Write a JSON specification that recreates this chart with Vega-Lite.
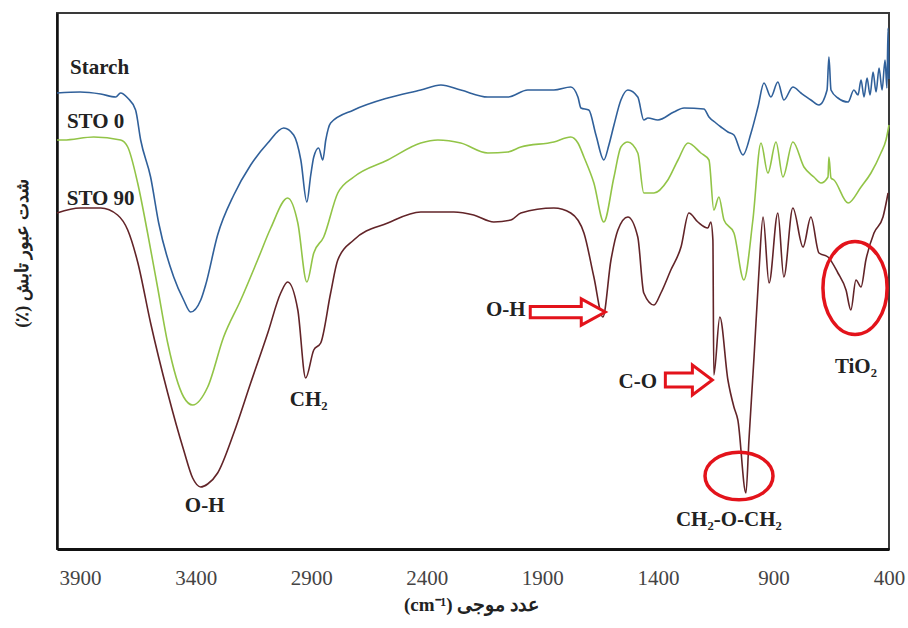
{
  "$schema": "https://vega.github.io/schema/vega-lite/v6.json",
  "width": 832,
  "height": 536,
  "autosize": {"type": "none"},
  "padding": {"left": 57, "top": 13, "right": 19, "bottom": 79},
  "background": "white",
  "config": {"view": {"stroke": "#3a3a3a", "strokeWidth": 2}, "font": "Liberation Serif"},
  "datasets": {
    "spectra": [
      {"sample":"Starch","wavenumber":4000,"value":456},{"sample":"Starch","wavenumber":3900,"value":457},{"sample":"Starch","wavenumber":3811,"value":455},{"sample":"Starch","wavenumber":3746,"value":452},{"sample":"Starch","wavenumber":3725,"value":456},{"sample":"Starch","wavenumber":3694,"value":451},{"sample":"Starch","wavenumber":3660,"value":439},{"sample":"Starch","wavenumber":3638,"value":409},{"sample":"Starch","wavenumber":3595,"value":372},{"sample":"Starch","wavenumber":3560,"value":326},{"sample":"Starch","wavenumber":3495,"value":272},{"sample":"Starch","wavenumber":3452,"value":249},{"sample":"Starch","wavenumber":3422,"value":237},{"sample":"Starch","wavenumber":3378,"value":249},{"sample":"Starch","wavenumber":3357,"value":264},{"sample":"Starch","wavenumber":3305,"value":314},{"sample":"Starch","wavenumber":3235,"value":354},{"sample":"Starch","wavenumber":3162,"value":384},{"sample":"Starch","wavenumber":3088,"value":406},{"sample":"Starch","wavenumber":3019,"value":421},{"sample":"Starch","wavenumber":2976,"value":414},{"sample":"Starch","wavenumber":2945,"value":389},{"sample":"Starch","wavenumber":2919,"value":347},{"sample":"Starch","wavenumber":2902,"value":374},{"sample":"Starch","wavenumber":2889,"value":392},{"sample":"Starch","wavenumber":2868,"value":401},{"sample":"Starch","wavenumber":2850,"value":389},{"sample":"Starch","wavenumber":2837,"value":409},{"sample":"Starch","wavenumber":2816,"value":426},{"sample":"Starch","wavenumber":2716,"value":439},{"sample":"Starch","wavenumber":2569,"value":451},{"sample":"Starch","wavenumber":2426,"value":459},{"sample":"Starch","wavenumber":2339,"value":464},{"sample":"Starch","wavenumber":2253,"value":459},{"sample":"Starch","wavenumber":2136,"value":452},{"sample":"Starch","wavenumber":2049,"value":452},{"sample":"Starch","wavenumber":1963,"value":459},{"sample":"Starch","wavenumber":1850,"value":459},{"sample":"Starch","wavenumber":1777,"value":462},{"sample":"Starch","wavenumber":1746,"value":452},{"sample":"Starch","wavenumber":1733,"value":441},{"sample":"Starch","wavenumber":1699,"value":439},{"sample":"Starch","wavenumber":1668,"value":414},{"sample":"Starch","wavenumber":1634,"value":389},{"sample":"Starch","wavenumber":1612,"value":404},{"sample":"Starch","wavenumber":1590,"value":424},{"sample":"Starch","wavenumber":1560,"value":449},{"sample":"Starch","wavenumber":1530,"value":459},{"sample":"Starch","wavenumber":1487,"value":452},{"sample":"Starch","wavenumber":1461,"value":429},{"sample":"Starch","wavenumber":1443,"value":431},{"sample":"Starch","wavenumber":1400,"value":429},{"sample":"Starch","wavenumber":1331,"value":437},{"sample":"Starch","wavenumber":1287,"value":441},{"sample":"Starch","wavenumber":1201,"value":440},{"sample":"Starch","wavenumber":1179,"value":432},{"sample":"Starch","wavenumber":1149,"value":426},{"sample":"Starch","wavenumber":1127,"value":422},{"sample":"Starch","wavenumber":1097,"value":417},{"sample":"Starch","wavenumber":1071,"value":414},{"sample":"Starch","wavenumber":1032,"value":394},{"sample":"Starch","wavenumber":997,"value":416},{"sample":"Starch","wavenumber":967,"value":442},{"sample":"Starch","wavenumber":941,"value":466},{"sample":"Starch","wavenumber":911,"value":452},{"sample":"Starch","wavenumber":881,"value":467},{"sample":"Starch","wavenumber":855,"value":449},{"sample":"Starch","wavenumber":816,"value":462},{"sample":"Starch","wavenumber":781,"value":456},{"sample":"Starch","wavenumber":738,"value":449},{"sample":"Starch","wavenumber":703,"value":444},{"sample":"Starch","wavenumber":668,"value":459},{"sample":"Starch","wavenumber":660,"value":492},{"sample":"Starch","wavenumber":651,"value":459},{"sample":"Starch","wavenumber":621,"value":451},{"sample":"Starch","wavenumber":577,"value":447},{"sample":"Starch","wavenumber":552,"value":459},{"sample":"Starch","wavenumber":534,"value":454},{"sample":"Starch","wavenumber":521,"value":469},{"sample":"Starch","wavenumber":508,"value":452},{"sample":"Starch","wavenumber":495,"value":471},{"sample":"Starch","wavenumber":482,"value":454},{"sample":"Starch","wavenumber":469,"value":477},{"sample":"Starch","wavenumber":456,"value":457},{"sample":"Starch","wavenumber":443,"value":481},{"sample":"Starch","wavenumber":430,"value":459},{"sample":"Starch","wavenumber":417,"value":489},{"sample":"Starch","wavenumber":409,"value":461},{"sample":"Starch","wavenumber":404,"value":521},{"sample":"Starch","wavenumber":400,"value":470},
      {"sample":"STO 0","wavenumber":4000,"value":409},{"sample":"STO 0","wavenumber":3971,"value":409},{"sample":"STO 0","wavenumber":3841,"value":412},{"sample":"STO 0","wavenumber":3725,"value":409},{"sample":"STO 0","wavenumber":3694,"value":402},{"sample":"STO 0","wavenumber":3651,"value":366},{"sample":"STO 0","wavenumber":3608,"value":316},{"sample":"STO 0","wavenumber":3565,"value":262},{"sample":"STO 0","wavenumber":3521,"value":206},{"sample":"STO 0","wavenumber":3452,"value":152},{"sample":"STO 0","wavenumber":3413,"value":144},{"sample":"STO 0","wavenumber":3348,"value":162},{"sample":"STO 0","wavenumber":3279,"value":212},{"sample":"STO 0","wavenumber":3205,"value":249},{"sample":"STO 0","wavenumber":3132,"value":289},{"sample":"STO 0","wavenumber":3075,"value":321},{"sample":"STO 0","wavenumber":3002,"value":351},{"sample":"STO 0","wavenumber":2958,"value":326},{"sample":"STO 0","wavenumber":2919,"value":267},{"sample":"STO 0","wavenumber":2889,"value":296},{"sample":"STO 0","wavenumber":2846,"value":312},{"sample":"STO 0","wavenumber":2785,"value":356},{"sample":"STO 0","wavenumber":2716,"value":372},{"sample":"STO 0","wavenumber":2569,"value":389},{"sample":"STO 0","wavenumber":2426,"value":406},{"sample":"STO 0","wavenumber":2352,"value":409},{"sample":"STO 0","wavenumber":2253,"value":406},{"sample":"STO 0","wavenumber":2136,"value":396},{"sample":"STO 0","wavenumber":2049,"value":397},{"sample":"STO 0","wavenumber":1993,"value":402},{"sample":"STO 0","wavenumber":1850,"value":407},{"sample":"STO 0","wavenumber":1777,"value":412},{"sample":"STO 0","wavenumber":1746,"value":406},{"sample":"STO 0","wavenumber":1720,"value":392},{"sample":"STO 0","wavenumber":1677,"value":366},{"sample":"STO 0","wavenumber":1634,"value":327},{"sample":"STO 0","wavenumber":1590,"value":372},{"sample":"STO 0","wavenumber":1560,"value":402},{"sample":"STO 0","wavenumber":1530,"value":407},{"sample":"STO 0","wavenumber":1487,"value":396},{"sample":"STO 0","wavenumber":1461,"value":356},{"sample":"STO 0","wavenumber":1417,"value":356},{"sample":"STO 0","wavenumber":1357,"value":369},{"sample":"STO 0","wavenumber":1313,"value":389},{"sample":"STO 0","wavenumber":1270,"value":406},{"sample":"STO 0","wavenumber":1214,"value":396},{"sample":"STO 0","wavenumber":1179,"value":389},{"sample":"STO 0","wavenumber":1158,"value":339},{"sample":"STO 0","wavenumber":1136,"value":352},{"sample":"STO 0","wavenumber":1114,"value":329},{"sample":"STO 0","wavenumber":1071,"value":316},{"sample":"STO 0","wavenumber":1028,"value":269},{"sample":"STO 0","wavenumber":989,"value":329},{"sample":"STO 0","wavenumber":954,"value":406},{"sample":"STO 0","wavenumber":924,"value":376},{"sample":"STO 0","wavenumber":889,"value":407},{"sample":"STO 0","wavenumber":859,"value":372},{"sample":"STO 0","wavenumber":816,"value":407},{"sample":"STO 0","wavenumber":768,"value":382},{"sample":"STO 0","wavenumber":725,"value":372},{"sample":"STO 0","wavenumber":694,"value":366},{"sample":"STO 0","wavenumber":664,"value":372},{"sample":"STO 0","wavenumber":660,"value":392},{"sample":"STO 0","wavenumber":651,"value":371},{"sample":"STO 0","wavenumber":638,"value":369},{"sample":"STO 0","wavenumber":577,"value":346},{"sample":"STO 0","wavenumber":521,"value":362},{"sample":"STO 0","wavenumber":478,"value":376},{"sample":"STO 0","wavenumber":435,"value":396},{"sample":"STO 0","wavenumber":413,"value":409},{"sample":"STO 0","wavenumber":400,"value":424},
      {"sample":"STO 90","wavenumber":4000,"value":336},{"sample":"STO 90","wavenumber":3900,"value":341},{"sample":"STO 90","wavenumber":3811,"value":341},{"sample":"STO 90","wavenumber":3738,"value":334},{"sample":"STO 90","wavenumber":3694,"value":319},{"sample":"STO 90","wavenumber":3651,"value":287},{"sample":"STO 90","wavenumber":3595,"value":226},{"sample":"STO 90","wavenumber":3521,"value":156},{"sample":"STO 90","wavenumber":3452,"value":99},{"sample":"STO 90","wavenumber":3413,"value":71},{"sample":"STO 90","wavenumber":3378,"value":62},{"sample":"STO 90","wavenumber":3348,"value":65},{"sample":"STO 90","wavenumber":3305,"value":76},{"sample":"STO 90","wavenumber":3235,"value":116},{"sample":"STO 90","wavenumber":3162,"value":166},{"sample":"STO 90","wavenumber":3088,"value":216},{"sample":"STO 90","wavenumber":3032,"value":256},{"sample":"STO 90","wavenumber":3002,"value":267},{"sample":"STO 90","wavenumber":2958,"value":239},{"sample":"STO 90","wavenumber":2924,"value":171},{"sample":"STO 90","wavenumber":2889,"value":199},{"sample":"STO 90","wavenumber":2859,"value":206},{"sample":"STO 90","wavenumber":2816,"value":256},{"sample":"STO 90","wavenumber":2785,"value":289},{"sample":"STO 90","wavenumber":2716,"value":309},{"sample":"STO 90","wavenumber":2569,"value":326},{"sample":"STO 90","wavenumber":2426,"value":337},{"sample":"STO 90","wavenumber":2283,"value":337},{"sample":"STO 90","wavenumber":2197,"value":334},{"sample":"STO 90","wavenumber":2110,"value":327},{"sample":"STO 90","wavenumber":2036,"value":329},{"sample":"STO 90","wavenumber":1993,"value":336},{"sample":"STO 90","wavenumber":1850,"value":341},{"sample":"STO 90","wavenumber":1777,"value":336},{"sample":"STO 90","wavenumber":1720,"value":316},{"sample":"STO 90","wavenumber":1677,"value":272},{"sample":"STO 90","wavenumber":1638,"value":232},{"sample":"STO 90","wavenumber":1603,"value":289},{"sample":"STO 90","wavenumber":1573,"value":319},{"sample":"STO 90","wavenumber":1530,"value":332},{"sample":"STO 90","wavenumber":1487,"value":312},{"sample":"STO 90","wavenumber":1461,"value":256},{"sample":"STO 90","wavenumber":1417,"value":244},{"sample":"STO 90","wavenumber":1387,"value":256},{"sample":"STO 90","wavenumber":1344,"value":279},{"sample":"STO 90","wavenumber":1300,"value":302},{"sample":"STO 90","wavenumber":1266,"value":336},{"sample":"STO 90","wavenumber":1227,"value":327},{"sample":"STO 90","wavenumber":1184,"value":321},{"sample":"STO 90","wavenumber":1171,"value":327},{"sample":"STO 90","wavenumber":1162,"value":309},{"sample":"STO 90","wavenumber":1158,"value":174},{"sample":"STO 90","wavenumber":1132,"value":232},{"sample":"STO 90","wavenumber":1097,"value":169},{"sample":"STO 90","wavenumber":1071,"value":142},{"sample":"STO 90","wavenumber":1054,"value":129},{"sample":"STO 90","wavenumber":1019,"value":56},{"sample":"STO 90","wavenumber":1006,"value":109},{"sample":"STO 90","wavenumber":984,"value":192},{"sample":"STO 90","wavenumber":963,"value":276},{"sample":"STO 90","wavenumber":945,"value":332},{"sample":"STO 90","wavenumber":919,"value":266},{"sample":"STO 90","wavenumber":881,"value":336},{"sample":"STO 90","wavenumber":855,"value":272},{"sample":"STO 90","wavenumber":816,"value":341},{"sample":"STO 90","wavenumber":772,"value":302},{"sample":"STO 90","wavenumber":738,"value":332},{"sample":"STO 90","wavenumber":703,"value":296},{"sample":"STO 90","wavenumber":664,"value":292},{"sample":"STO 90","wavenumber":621,"value":276},{"sample":"STO 90","wavenumber":586,"value":259},{"sample":"STO 90","wavenumber":565,"value":239},{"sample":"STO 90","wavenumber":543,"value":269},{"sample":"STO 90","wavenumber":521,"value":262},{"sample":"STO 90","wavenumber":500,"value":289},{"sample":"STO 90","wavenumber":465,"value":316},{"sample":"STO 90","wavenumber":426,"value":332},{"sample":"STO 90","wavenumber":404,"value":356}
    ],
    "labels": [
      {"label":"Starch","wavenumber":3816,"value":481},
      {"label":"STO 0","wavenumber":3833,"value":427},
      {"label":"STO 90","wavenumber":3811,"value":350},
      {"label":"O-H","wavenumber":3361,"value":43},
      {"label":"CH₂","wavenumber":2911,"value":149},
      {"label":"O-H","wavenumber":2058,"value":239},
      {"label":"C-O","wavenumber":1487,"value":167},
      {"label":"CH₂-O-CH₂","wavenumber":1093,"value":29},
      {"label":"TiO₂","wavenumber":543,"value":182}
    ]
  },
  "encoding": {
    "x": {
      "field": "wavenumber", "type": "quantitative",
      "scale": {"domain": [400, 4000], "reverse": true, "nice": false, "zero": false},
      "axis": {
        "values": [3900, 3400, 2900, 2400, 1900, 1400, 900, 400],
        "format": "d",
        "title": "(cm⁻¹) عدد موجی",
        "grid": false, "ticks": false, "tickSize": 0,
        "labelPadding": 29, "labelBaseline": "middle", "labelFlush": false, "labelOverlap": false,
        "labelFont": "Liberation Serif", "labelFontSize": 21, "labelColor": "#444",
        "domainColor": "#111", "domainWidth": 3,
        "titleX": 414, "titleY": 55, "titleBaseline": "middle", "titleAlign": "center",
        "titleFont": "Liberation Serif", "titleFontSize": 19, "titleFontWeight": "bold", "titleColor": "#222"
      }
    },
    "y": {
      "field": "value", "type": "quantitative",
      "scale": {"domain": [0, 536], "nice": false, "zero": false},
      "axis": {
        "title": "(٪) شدت عبور تابش",
        "labels": false, "ticks": false, "tickSize": 0, "grid": false,
        "domainColor": "#111", "domainWidth": 2.5,
        "titleX": -35, "titleY": 240, "titleBaseline": "middle", "titleAlign": "center", "titleAngle": -90,
        "titleFont": "Liberation Serif", "titleFontSize": 18, "titleFontWeight": "bold", "titleColor": "#222"
      }
    }
  },
  "layer": [
    {
      "data": {"name": "spectra"},
      "mark": {"type": "line", "strokeWidth": 1.6, "interpolate": "monotone"},
      "encoding": {
        "color": {"field": "sample", "type": "nominal",
          "scale": {"domain": ["Starch", "STO 0", "STO 90"], "range": ["#30609a", "#92c447", "#622428"]},
          "legend": null}
      }
    },
    {
      "data": {"values": [{"wavenumber": 1790, "value": 237}]},
      "mark": {"type": "point", "shape": "M-1,-0.15L0.36,-0.15L0.36,-0.35L1,0L0.36,0.35L0.36,0.15L-1,0.15Z", "size": 5625, "filled": true, "fill": "#ffffff", "stroke": "#e3131b", "strokeWidth": 3, "opacity": 1}
    },
    {
      "data": {"values": [{"wavenumber": 1266, "value": 169}]},
      "mark": {"type": "point", "shape": "M-1,-0.3L0.15,-0.3L0.15,-0.64L1,0L0.15,0.64L0.15,0.3L-1,0.3Z", "size": 2209, "filled": true, "fill": "#ffffff", "stroke": "#e3131b", "strokeWidth": 3, "opacity": 1}
    },
    {
      "data": {"values": [{"wavenumber": 1049, "value": 73}]},
      "mark": {"type": "point", "shape": "M-1,0A1,0.7,0,1,1,1,0A1,0.7,0,1,1,-1,0Z", "size": 4624, "filled": false, "stroke": "#e3131b", "strokeWidth": 3.5, "opacity": 1}
    },
    {
      "data": {"values": [{"wavenumber": 547, "value": 261}]},
      "mark": {"type": "point", "shape": "M-0.69,0A0.69,1,0,1,1,0.69,0A0.69,1,0,1,1,-0.69,0Z", "size": 8649, "filled": false, "stroke": "#e3131b", "strokeWidth": 3.5, "opacity": 1}
    },
    {
      "data": {"name": "labels"},
      "mark": {"type": "text", "font": "Liberation Serif", "fontSize": 21, "fontWeight": "bold", "color": "#222", "align": "center", "baseline": "middle"},
      "encoding": {"text": {"field": "label", "type": "nominal"}}
    }
  ]
}
